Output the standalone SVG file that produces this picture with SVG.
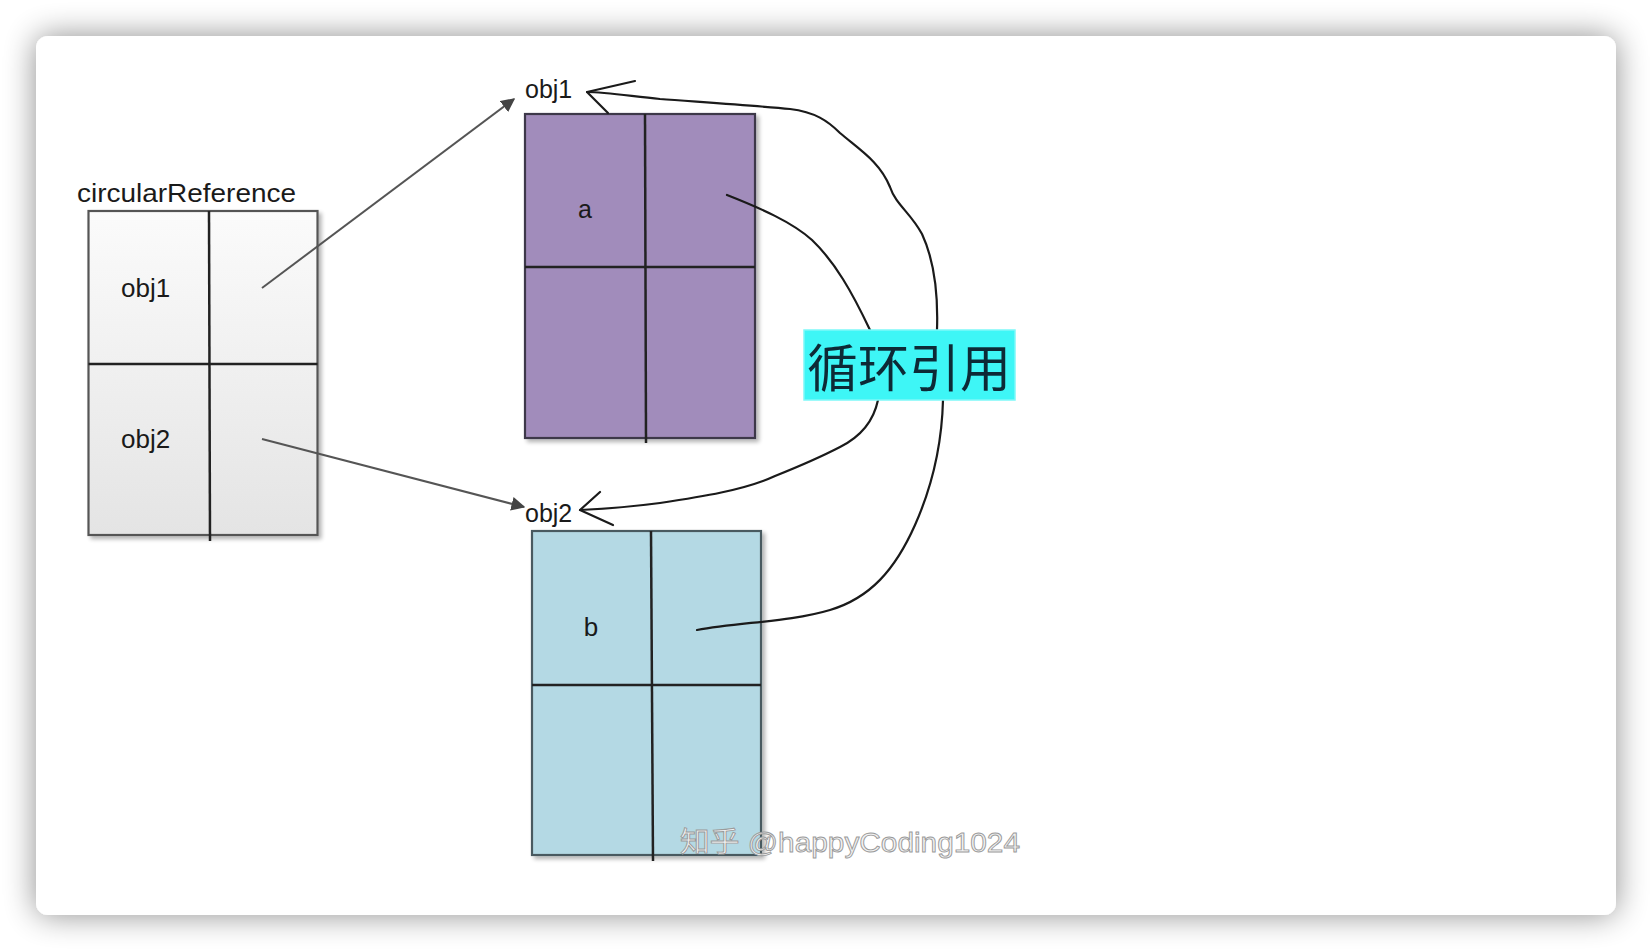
<svg xmlns="http://www.w3.org/2000/svg" width="1652" height="952" viewBox="0 0 1652 952">
  <defs>
    <filter id="cardShadow" x="-10%" y="-10%" width="120%" height="120%">
      <feGaussianBlur in="SourceAlpha" stdDeviation="16"/>
      <feComponentTransfer><feFuncA type="linear" slope="0.45"/></feComponentTransfer>
      <feMerge><feMergeNode/><feMergeNode in="SourceGraphic"/></feMerge>
    </filter>
    <filter id="boxShadow" x="-10%" y="-10%" width="130%" height="130%">
      <feGaussianBlur in="SourceAlpha" stdDeviation="2"/>
      <feOffset dx="3" dy="3" result="o"/>
      <feComponentTransfer><feFuncA type="linear" slope="0.3"/></feComponentTransfer>
      <feMerge><feMergeNode/><feMergeNode in="SourceGraphic"/></feMerge>
    </filter>
    <linearGradient id="grayFill" x1="0" y1="0" x2="0" y2="1">
      <stop offset="0" stop-color="#fbfbfb"/>
      <stop offset="1" stop-color="#e4e4e4"/>
    </linearGradient>
    <marker id="arrow" viewBox="0 0 10 10" refX="9" refY="5" markerWidth="7" markerHeight="7" orient="auto" markerUnits="strokeWidth">
      <path d="M0,0 L10,5 L0,10 z" fill="#444"/>
    </marker>
    <style>
      .lbl { font-family: "Liberation Sans", Arial, sans-serif; fill: #1a1a1a; }
      .grid { stroke: #222; stroke-width: 2.5; fill: none; }
      .conn { stroke: #555; stroke-width: 2; fill: none; }
      .hand { stroke: #1a1a1a; stroke-width: 2.2; fill: none; stroke-linecap: round; stroke-linejoin: round; }
    </style>
  </defs>

  <rect x="0" y="0" width="1652" height="952" fill="#ffffff"/>
  <rect x="36" y="36" width="1580" height="879" rx="12" fill="#ffffff" filter="url(#cardShadow)"/>

  <g id="circularReference">
    <text class="lbl" x="77" y="202" font-size="25" textLength="219" lengthAdjust="spacingAndGlyphs">circularReference</text>
    <rect x="88.5" y="211" width="229" height="324" fill="url(#grayFill)" stroke="#555" stroke-width="2.2" filter="url(#boxShadow)"/>
    <line class="grid" x1="209" y1="211" x2="210" y2="541"/>
    <line class="grid" x1="88.5" y1="364" x2="317.5" y2="364"/>
    <text class="lbl" x="121" y="297" font-size="26">obj1</text>
    <text class="lbl" x="121" y="448" font-size="26">obj2</text>
  </g>

  <g id="obj1">
    <text class="lbl" x="525" y="98" font-size="25">obj1</text>
    <rect x="525" y="114" width="230" height="324" fill="#a18cbb" stroke="#3e3848" stroke-width="2.2" filter="url(#boxShadow)"/>
    <line class="grid" x1="645" y1="114" x2="646" y2="443"/>
    <line class="grid" x1="525" y1="267" x2="755" y2="267"/>
    <text class="lbl" x="585" y="218" font-size="25" text-anchor="middle">a</text>
  </g>

  <g id="obj2">
    <text class="lbl" x="525" y="522" font-size="25">obj2</text>
    <rect x="532" y="531" width="229" height="324" fill="#b4d9e4" stroke="#4a5a60" stroke-width="2.2" filter="url(#boxShadow)"/>
    <line class="grid" x1="651" y1="531" x2="653" y2="861"/>
    <line class="grid" x1="532" y1="685" x2="761" y2="685"/>
    <text class="lbl" x="591" y="636" font-size="26" text-anchor="middle">b</text>
  </g>

  <g id="connectors">
    <line class="conn" x1="262" y1="288" x2="514" y2="99" marker-end="url(#arrow)"/>
    <line class="conn" x1="262" y1="439" x2="524" y2="507" marker-end="url(#arrow)"/>
    <path class="hand" d="M727,195 C760,208 792,222 812,240 C835,262 852,292 870,330"/>
    <path class="hand" d="M878,400 C873,424 858,438 840,447 C815,460 800,466 775,476 C745,490 700,497 660,503 C630,507 600,509 580,510"/>
    <path class="hand" d="M600,492 L580,510 L613,525"/>
    <path class="hand" d="M697,630 C740,622 790,622 830,610 C870,598 895,570 915,525 C935,480 942,440 943,400"/>
    <path class="hand" d="M937,330 C938,300 935,262 922,234 C910,212 896,205 890,187 C880,162 860,150 840,133 C828,121 815,112 790,109 C760,106 700,102 660,99 C630,96 605,92 587,92"/>
    <path class="hand" d="M635,81 L587,92 L608,113"/>
  </g>

  <g id="label-circular">
    <rect x="804" y="330" width="211" height="70" fill="#3ef6f6" stroke="#7ef9f9" stroke-width="1.5"/>
    <text x="909" y="387" font-size="51" text-anchor="middle" fill="#0d2a36" font-family="Noto Sans CJK SC, sans-serif">循环引用</text>
  </g>

  <text x="680" y="852" font-size="28" fill="#f2f2f2" stroke="#9a9a9a" stroke-width="0.9" font-family="Liberation Sans, Noto Sans CJK SC, sans-serif" textLength="340" lengthAdjust="spacingAndGlyphs">知乎 @happyCoding1024</text>
</svg>
